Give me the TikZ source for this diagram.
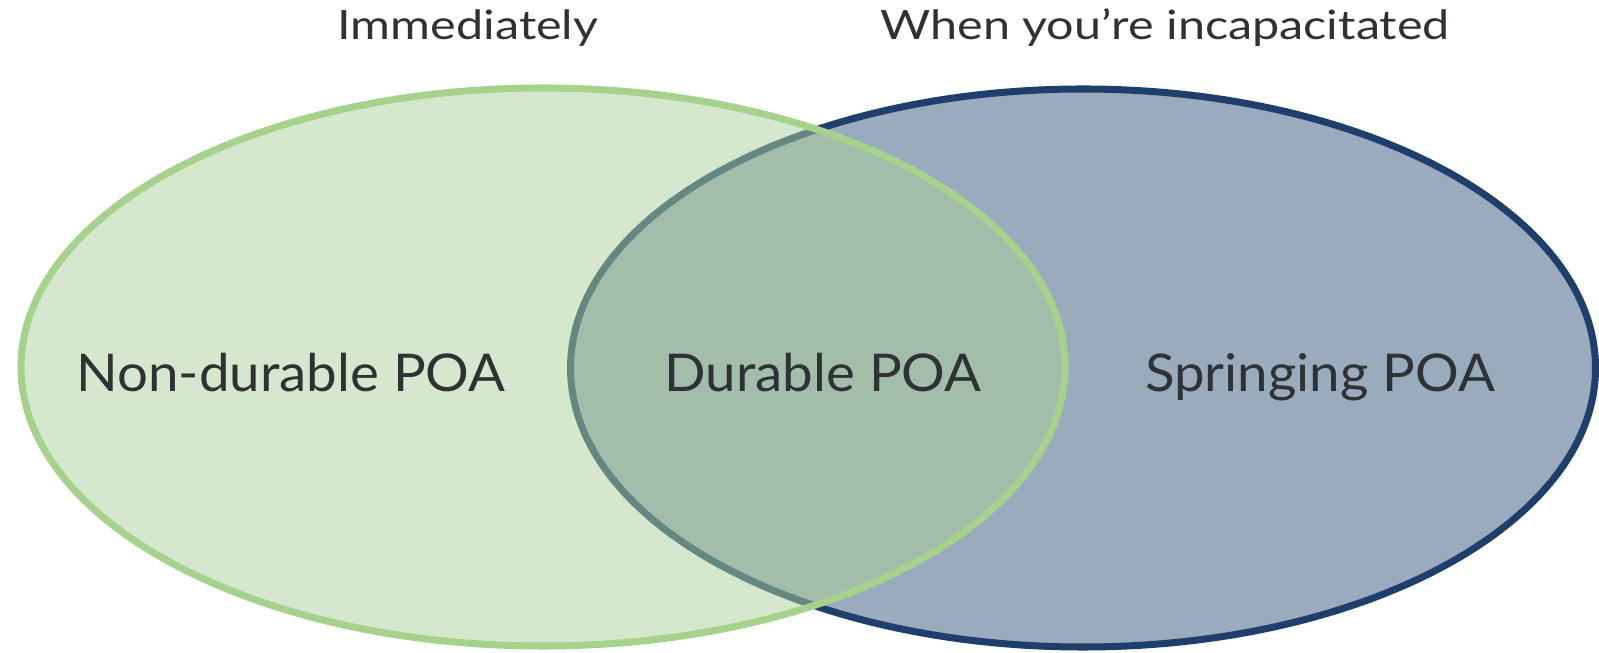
\documentclass[tikz,border=0pt]{standalone}
\usepackage{fontspec}
\setmainfont{Lato}
\newfontfamily\poafont[FakeStretch=1.05]{Lato}
\newfontfamily\whenfont[FakeStretch=1.2]{Lato}
\usepackage{tikz}
\usetikzlibrary{shapes.geometric,positioning}

\definecolor{greenfill}{RGB}{172,208,153}
\definecolor{greenline}{RGB}{165,211,139}
\definecolor{bluefill}{RGB}{154,171,190}
\definecolor{blueline}{RGB}{30,63,107}
\definecolor{labeltext}{RGB}{46,50,52}

\begin{document}
\begin{tikzpicture}[
        x=0.1mm, y=-0.1mm,
        set/.style = {ellipse, inner sep=0pt, outer sep=0pt, line width=2pt},
        poa/.style = {anchor=base, inner sep=0pt, text=labeltext, font=\poafont\fontsize{14.8}{17}\selectfont},
        when/.style = {anchor=base, inner sep=0pt, text=labeltext, font=\whenfont\fontsize{11.5}{14}\selectfont}
    ]
    \useasboundingbox (0,0) rectangle (1599,653);

    % sets
    \node [set, fill=bluefill, draw=blueline, minimum width=102.5mm, minimum height=55.8mm] (spring) at (1083,368) {};
    \node [set, fill=greenfill, fill opacity=0.5, draw=greenline, minimum width=104.4mm, minimum height=55.8mm] (nondur) at (543,367) {};

    % labels
    \node [poa] (nd) at (291,392) {Non-durable POA};
    \node [poa] (du) at (823,392) {Durable POA};
    \node [poa] (sp) at (1320,392) {Springing POA};
    \node [when] (imm) at (468,40) {Immediately};
    \node [when] (inc) at (1165,40) {When you’re incapacitated};

\end{tikzpicture}
\end{document}
